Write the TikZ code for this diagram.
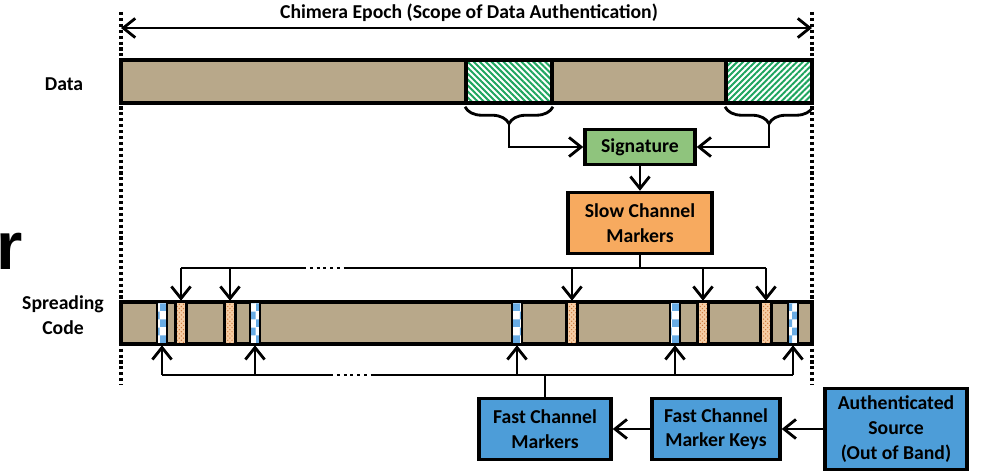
\documentclass[tikz,border=0pt]{standalone}
\usepackage{fontspec}
\setmainfont{Carlito}
\newfontfamily\bigfont{Liberation Sans}
\usetikzlibrary{arrows.meta,patterns,patterns.meta,decorations.pathreplacing,positioning}

\definecolor{codetan}{RGB}{184,168,138}
\definecolor{siggreen}{RGB}{143,196,125}
\definecolor{hatchgreen}{RGB}{30,165,95}
\definecolor{sloworange}{RGB}{247,170,95}
\definecolor{dotorange}{RGB}{205,120,60}
\definecolor{dotfill}{RGB}{245,205,165}
\definecolor{fastblue}{RGB}{77,157,216}
\definecolor{checkblue}{RGB}{105,172,228}

\begin{document}
\begin{tikzpicture}[x=0.025cm,y=-0.025cm,
  font=\fontsize{14}{17.5}\selectfont\bfseries,
  >={Straight Barb[length=0.3cm,width=0.48cm]},
  conn/.style={line width=2pt},
  dotline/.style={line width=2.4pt,dash pattern=on 2.2pt off 2pt},
  gapdots/.style={line width=2pt,dash pattern=on 2.2pt off 2.6pt},
  bar/.style={draw,line width=2.4pt,fill=codetan,minimum width=17.275cm,inner sep=0pt},
  hatch/.style={draw,line width=2.4pt,preaction={fill=white},pattern color=hatchgreen,minimum width=2.15cm,minimum height=1.075cm,inner sep=0pt},
  slowmark/.style={draw,line width=1.8pt,preaction={fill=dotfill},pattern=crosshatch dots,pattern color=dotorange,minimum width=0.28cm,minimum height=1.05cm,inner sep=0pt},
  fastmark/.style={draw,line width=1.8pt,preaction={fill=white},pattern=checkerboard,pattern color=checkblue,minimum width=0.26cm,minimum height=1.05cm,inner sep=0pt},
  box/.style={draw,line width=2.4pt,align=center,inner sep=0pt},
  brace/.style={line width=2pt,decorate,decoration={brace,mirror,amplitude=12pt}}
]
\useasboundingbox (0,0) rectangle (981,471);

% letter cut at the left edge
\node[anchor=base west,inner sep=0pt,font=\bigfont\bfseries\fontsize{48}{48}\selectfont] (cutr) at (-4,270) {r};

% epoch limits
\coordinate (epochTL) at (121,12);
\coordinate (epochBL) at (121,385);
\coordinate (epochTR) at (812,12);
\coordinate (epochBR) at (812,385);
\draw[dotline] (epochTL) -- (epochBL);
\draw[dotline] (epochTR) -- (epochBR);
\coordinate (epochL) at (121,28);
\coordinate (epochR) at (812,28);
\draw[conn,<->] (epochL) -- (epochR);
\node (title) at (469,13) {Chimera Epoch (Scope of Data Authentication)};

% data
\node[bar,minimum height=1.075cm] (data) at (466.5,81.5) {};
\node[hatch,pattern={Lines[angle=-45,distance=3pt,line width=1.4pt]}] (h1) at (509,81.5) {};
\node[hatch,pattern={Lines[angle=45,distance=3pt,line width=1.4pt]}] (h2) at (769,81.5) {};
\node (datalbl) at (64,84) {Data};

\draw[brace] ([yshift=-2pt]h1.south west) -- ([yshift=-2pt]h1.south east);
\draw[brace] ([yshift=-2pt]h2.south west) -- ([yshift=-2pt]h2.south east);
\coordinate (b1) at ([yshift=-14pt]h1.south);
\coordinate (b2) at ([yshift=-14pt]h2.south);

\node[box,fill=siggreen,minimum width=2.75cm,minimum height=0.875cm] (sig) at (640,147) {Signature};
\draw[conn,->] (b1) |- (sig.west);
\draw[conn,->] (b2) |- (sig.east);

\node[box,fill=sloworange,minimum width=3.6cm,minimum height=1.525cm] (scm) at (640,223) {Slow Channel\\Markers};
\draw[conn,->] (sig) -- (scm);

% spreading code
\node[bar,minimum height=1.05cm] (code) at (466.5,323) {};
\node[align=center] (codelbl) at (63,315) {Spreading\\Code};
\foreach \n/\xx in {f1/162,f2/255,f3/517,f4/675,f5/793}
  \node[fastmark] (\n) at (\xx,323) {};
\foreach \n/\xx in {s1/181,s2/230,s3/572,s4/703,s5/766}
  \node[slowmark] (\n) at (\xx,323) {};

% slow channel bus
\coordinate (slowbus) at (640,268);
\coordinate (slowgapL) at (303,268);
\coordinate (slowgapR) at (345,268);
\draw[conn] (scm.south) -- (slowbus);
\draw[conn] (s1 |- slowbus) -- (slowgapL);
\draw[gapdots] (slowgapL) -- (slowgapR);
\draw[conn] (slowgapR) -- (s5 |- slowbus);
\foreach \n in {s1,s2,s3,s4,s5}
  \draw[conn,->] (\n |- slowbus) -- (\n.north);

% fast channel bus
\node[box,fill=fastblue,minimum width=3.3cm,minimum height=1.525cm] (fcm) at (545,429) {Fast Channel\\Markers};
\node[box,fill=fastblue,minimum width=3.2cm,minimum height=1.525cm] (fcmk) at (716,429) {Fast Channel\\Marker Keys};
\node[box,fill=fastblue,minimum width=3.55cm,minimum height=2.025cm] (auth) at (896,429) {Authenticated\\Source\\(Out of Band)};
\coordinate (fastbus) at (545,375);
\coordinate (fastgapL) at (330,375);
\coordinate (fastgapR) at (372,375);
\draw[conn] (fcm.north) -- (fastbus);
\draw[conn] (f1 |- fastbus) -- (fastgapL);
\draw[gapdots] (fastgapL) -- (fastgapR);
\draw[conn] (fastgapR) -- (f5 |- fastbus);
\foreach \n in {f1,f2,f3,f4,f5}
  \draw[conn,->] (\n |- fastbus) -- (\n.south);
\draw[conn,->] (fcmk) -- (fcm);
\draw[conn,->] (auth) -- (fcmk);
\end{tikzpicture}
\end{document}
